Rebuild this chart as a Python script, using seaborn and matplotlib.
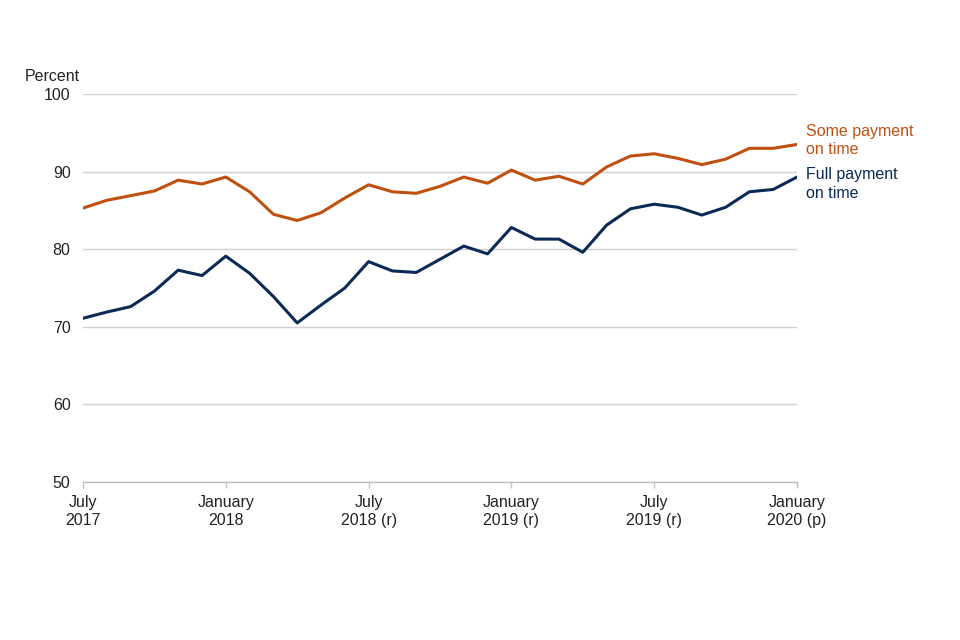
import matplotlib
matplotlib.use("Agg")
import matplotlib.pyplot as plt
import matplotlib.transforms as mtransforms
import seaborn as sns
import pandas as pd

months = ["Jul 2017", "Aug 2017", "Sep 2017", "Oct 2017", "Nov 2017", "Dec 2017",
          "Jan 2018", "Feb 2018", "Mar 2018", "Apr 2018", "May 2018", "Jun 2018",
          "Jul 2018", "Aug 2018", "Sep 2018", "Oct 2018", "Nov 2018", "Dec 2018",
          "Jan 2019", "Feb 2019", "Mar 2019", "Apr 2019", "May 2019", "Jun 2019",
          "Jul 2019", "Aug 2019", "Sep 2019", "Oct 2019", "Nov 2019", "Dec 2019",
          "Jan 2020"]

some_payment = [85.3, 86.3, 86.9, 87.5, 88.9, 88.4, 89.3, 87.4, 84.5, 83.7, 84.7,
                86.6, 88.3, 87.4, 87.2, 88.1, 89.3, 88.5, 90.2, 88.9, 89.4, 88.4,
                90.6, 92.0, 92.3, 91.7, 90.9, 91.6, 93.0, 93.0, 93.5]
full_payment = [71.1, 71.9, 72.6, 74.6, 77.3, 76.6, 79.1, 76.9, 73.9, 70.5, 72.8,
                75.0, 78.4, 77.2, 77.0, 78.7, 80.4, 79.4, 82.8, 81.3, 81.3, 79.6,
                83.1, 85.2, 85.8, 85.4, 84.4, 85.4, 87.4, 87.7, 89.3]

series_names = ["Some payment\non time", "Full payment\non time"]
colors = ["#C0500F", "#0B2A55"]
label_values = [94.0, 88.4]

tick_months = ["Jul 2017", "Jan 2018", "Jul 2018", "Jan 2019", "Jul 2019", "Jan 2020"]
tick_labels = ["July\n2017", "January\n2018", "July\n2018 (r)", "January\n2019 (r)",
               "July\n2019 (r)", "January\n2020 (p)"]
y_ticks = [50, 60, 70, 80, 90, 100]

sns.set_theme(style="white")
plt.rcParams["font.family"] = ["Liberation Sans", "DejaVu Sans"]

df = pd.concat([
    pd.DataFrame({"month": months, "value": some_payment, "series": series_names[0]}),
    pd.DataFrame({"month": months, "value": full_payment, "series": series_names[1]}),
])
df["pos"] = df["month"].map({m: i for i, m in enumerate(months)})

fig = plt.figure(figsize=(9.6, 6.4), dpi=100)
ax = fig.add_axes([83 / 960, 1 - 482 / 640, (797 - 83) / 960, (482 - 94) / 640])

sns.lineplot(data=df, x="pos", y="value", hue="series", palette=colors,
             hue_order=series_names, linewidth=2.2, legend=False, ax=ax)

ax.set_xlim(0, len(months) - 1)
ax.set_ylim(50, 100)
ax.set_yticks(y_ticks)
ax.set_yticklabels([str(v) for v in y_ticks])
ax.set_xticks([months.index(m) for m in tick_months])
ax.set_xticklabels(tick_labels)
ax.set_xlabel("")
ax.set_ylabel("")

for sp in ["top", "right", "left"]:
    ax.spines[sp].set_visible(False)
ax.spines["bottom"].set_color("#BFBFBF")
ax.spines["bottom"].set_linewidth(1)

ax.yaxis.grid(True, color="#D0D0D0", linewidth=1)
ax.xaxis.grid(False)
ax.tick_params(axis="y", length=0, pad=9, labelsize=11.5, labelcolor="#222222")
ax.tick_params(axis="x", length=4, width=1, color="#BFBFBF", bottom=True,
               pad=5, labelsize=11.5, labelcolor="#222222")
for lbl in ax.get_xticklabels():
    lbl.set_linespacing(1.3)

ax.text(-0.005, 1.027, "Percent", transform=ax.transAxes, ha="right", va="bottom",
        fontsize=11.5, color="#222222")

offset = mtransforms.offset_copy(ax.transData, fig=fig, x=9, y=0, units="dots")
for name, val, col in zip(series_names, label_values, colors):
    ax.text(len(months) - 1, val, name, transform=offset, ha="left", va="center",
            fontsize=11.5, color=col, linespacing=1.3, clip_on=False)

fig.savefig("out.png", dpi=100)
